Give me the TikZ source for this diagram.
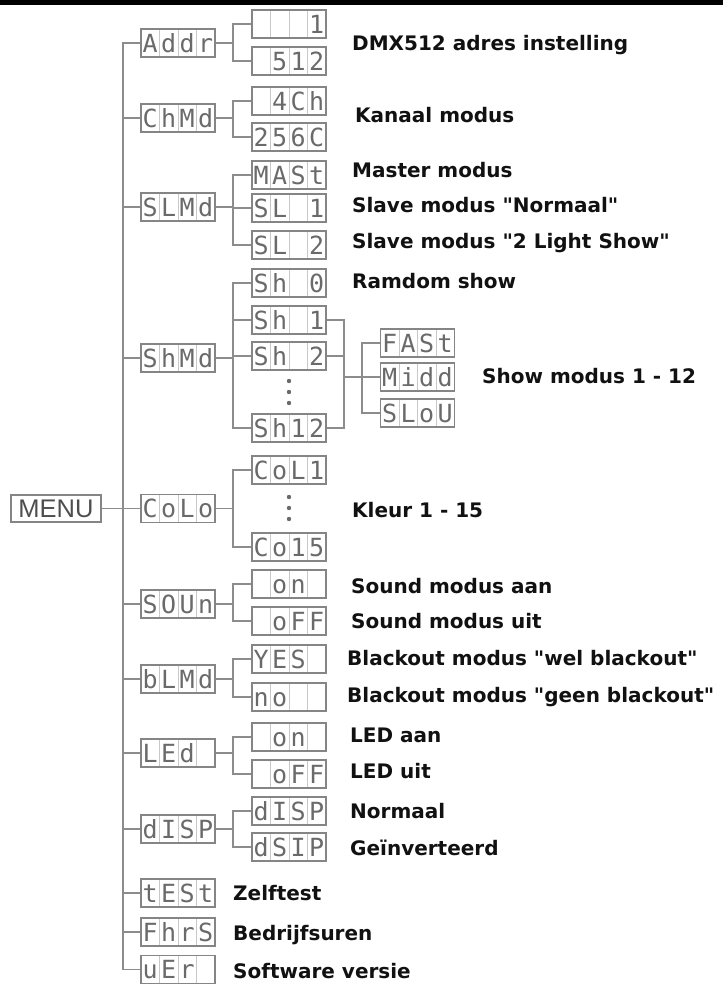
\documentclass[tikz,border=0pt]{standalone}
\usepackage{fontspec}
\setmainfont{DejaVu Sans}
\newfontfamily\lblfam{DejaVu Sans}
\newfontfamily\lcdfam{DejaVu Sans Mono}
\newfontfamily\menufam{Liberation Sans}
\usetikzlibrary{calc}
\definecolor{linegray}{HTML}{8C8C8C}
\definecolor{boxgray}{HTML}{858585}
\definecolor{divgray}{HTML}{C8C8C8}
\definecolor{lcdgray}{HTML}{6A6A6A}
\definecolor{menugray}{HTML}{4E4E4E}
\definecolor{txtblack}{HTML}{111111}
\newcommand\lcdcells[4]{\makebox[18.5pt]{#1}\makebox[18.5pt]{#2}\makebox[18.5pt]{#3}\makebox[18.5pt]{#4}}
\tikzset{
  conn/.style={draw=linegray, line width=1.5pt},
  lcdbox/.style={draw=boxgray, line width=1.5pt, minimum width=74pt, minimum height=28pt,
    inner sep=0pt, text=lcdgray, font=\lcdfam\fontsize{25}{25}\selectfont,
    text height=18pt, text depth=0pt,
    path picture={\foreach \k in {1,2,3}{\draw[divgray,line width=0.8pt]
      ($(path picture bounding box.north west)!\k/4!(path picture bounding box.north east)$) --
      ($(path picture bounding box.south west)!\k/4!(path picture bounding box.south east)$);}}},
  lbl/.style={anchor=base west, inner sep=0pt, text=txtblack,
    font=\lblfam\bfseries\fontsize{20}{20}\selectfont},
  menubox/.style={draw=boxgray, line width=1.5pt, minimum width=90pt, minimum height=27pt,
    inner sep=0pt, text=menugray, font=\menufam\fontsize{25.5}{25.5}\selectfont},
  lcddot/.style={fill=lcdgray}
}
\begin{document}
\begin{tikzpicture}[x=1pt,y=-1pt]
\useasboundingbox (0,0) rectangle (723,985);
\fill[black] (0,0) rectangle (723,4.5);

% root
\node[menubox] (menu) at (56,508.5) {MENU};

% level 2
\node[lcdbox] (addr) at (178,43)  {\lcdcells{A}{d}{d}{r}};
\node[lcdbox] (chmd) at (178,118) {\lcdcells{C}{h}{M}{d}};
\node[lcdbox] (slmd) at (178,207) {\lcdcells{S}{L}{M}{d}};
\node[lcdbox] (shmd) at (178,358) {\lcdcells{S}{h}{M}{d}};
\node[lcdbox] (colo) at (178,508.5) {\lcdcells{C}{o}{L}{o}};
\node[lcdbox] (soun) at (178,604) {\lcdcells{S}{O}{U}{n}};
\node[lcdbox] (blmd) at (178,679) {\lcdcells{b}{L}{M}{d}};
\node[lcdbox] (led)  at (178,753) {\lcdcells{L}{E}{d}{}};
\node[lcdbox] (disp) at (178,829) {\lcdcells{d}{I}{S}{P}};
\node[lcdbox] (test) at (178,893) {\lcdcells{t}{E}{S}{t}};
\node[lcdbox] (fhrs) at (178,932) {\lcdcells{F}{h}{r}{S}};
\node[lcdbox] (ver)  at (178,969.5) {\lcdcells{u}{E}{r}{}};

% level 3
\node[lcdbox] (a1) at (289,24)  {\lcdcells{}{}{}{1}};
\node[lcdbox] (a2) at (289,61)  {\lcdcells{}{5}{1}{2}};
\node[lcdbox] (c1) at (289,101) {\lcdcells{}{4}{C}{h}};
\node[lcdbox] (c2) at (289,137) {\lcdcells{2}{5}{6}{C}};
\node[lcdbox] (s1) at (289,175) {\lcdcells{M}{A}{S}{t}};
\node[lcdbox] (s2) at (289,208) {\lcdcells{S}{L}{}{1}};
\node[lcdbox] (s3) at (289,245) {\lcdcells{S}{L}{}{2}};
\node[lcdbox] (h0) at (289,283) {\lcdcells{S}{h}{}{0}};
\node[lcdbox] (h1) at (289,320) {\lcdcells{S}{h}{}{1}};
\node[lcdbox] (h2) at (289,356) {\lcdcells{S}{h}{}{2}};
\node[lcdbox] (h12) at (289,428) {\lcdcells{S}{h}{1}{2}};
\node[lcdbox] (col1) at (289,470) {\lcdcells{C}{o}{L}{1}};
\node[lcdbox] (col15) at (289,547) {\lcdcells{C}{o}{1}{5}};
\node[lcdbox] (on1) at (289,584) {\lcdcells{}{o}{n}{}};
\node[lcdbox] (off1) at (289,621) {\lcdcells{}{o}{F}{F}};
\node[lcdbox] (yes) at (289,659) {\lcdcells{Y}{E}{S}{}};
\node[lcdbox] (no) at (289,697) {\lcdcells{n}{o}{}{}};
\node[lcdbox] (on2) at (289,737) {\lcdcells{}{o}{n}{}};
\node[lcdbox] (off2) at (289,774) {\lcdcells{}{o}{F}{F}};
\node[lcdbox] (d1) at (289,811) {\lcdcells{d}{I}{S}{P}};
\node[lcdbox] (d2) at (289,847) {\lcdcells{d}{S}{I}{P}};

% level 4
\node[lcdbox] (fast) at (417.5,343) {\lcdcells{F}{A}{S}{t}};
\node[lcdbox] (midd) at (417.5,377) {\lcdcells{M}{i}{d}{d}};
\node[lcdbox] (slow) at (417.5,413) {\lcdcells{S}{L}{o}{U}};

% dots
\foreach \yy in {381,392,403} \fill[lcddot] (289,\yy) circle (2.2pt);
\foreach \yy in {497,508,519} \fill[lcddot] (289,\yy) circle (2.2pt);

% helper columns
\coordinate (tt) at (123,0);
\coordinate (br) at (233,0);
\coordinate (bk) at (344,0);
\coordinate (bk2) at (362,0);

% trunk
\draw[conn] (menu.east) -- (colo.west);
\draw[conn] (addr.west) -- (addr.west -| tt) -- (ver.west -| tt) -- (ver.west);
\foreach \n in {chmd,slmd,shmd,soun,blmd,led,disp,test,fhrs}
  \draw[conn] (\n.west) -- (\n.west -| tt);

% level 2 -> 3
\foreach \p/\a/\b in {addr/a1/a2, chmd/c1/c2, slmd/s1/s3, shmd/h0/h12, colo/col1/col15,
                      soun/on1/off1, blmd/yes/no, led/on2/off2, disp/d1/d2}{
  \draw[conn] (\p.east) -- (\p.east -| br);
  \draw[conn] (\a.west) -- (\a.west -| br) -- (\b.west -| br) -- (\b.west);
}
\foreach \n in {s2,h1,h2}
  \draw[conn] (\n.west) -- (\n.west -| br);

% show bracket
\draw[conn] (h1.east) -- (h1.east -| bk) -- (h12.east -| bk) -- (h12.east);
\draw[conn] (h2.east) -- (h2.east -| bk);
\draw[conn] (midd.west -| bk) -- (midd.west);
\draw[conn] (fast.west) -- (fast.west -| bk2) -- (slow.west -| bk2) -- (slow.west);

% labels
\node[lbl] (t1) at (352,50.5) {DMX512 adres instelling};
\node[lbl] (t2) at (355,122.5) {Kanaal modus};
\node[lbl] (t3) at (352,177) {Master modus};
\node[lbl] (t4) at (352,212.5) {Slave modus "Normaal"};
\node[lbl] (t5) at (352,248) {Slave modus "2 Light Show"};
\node[lbl] (t6) at (352,288.5) {Ramdom show};
\node[lbl] (t7) at (482,383.5) {Show modus 1 - 12};
\node[lbl] (t8) at (352,517.5) {Kleur 1 - 15};
\node[lbl] (t9) at (351,593.5) {Sound modus aan};
\node[lbl] (t10) at (351,628.5) {Sound modus uit};
\node[lbl] (t11) at (347,665.5) {Blackout modus "wel blackout"};
\node[lbl] (t12) at (347,702.5) {Blackout modus "geen blackout"};
\node[lbl] (t13) at (350,742.5) {LED aan};
\node[lbl] (t14) at (350,778.5) {LED uit};
\node[lbl] (t15) at (350,818.5) {Normaal};
\node[lbl] (t16) at (350,855.5) {Geïnverteerd};
\node[lbl] (t17) at (233,900.5) {Zelftest};
\node[lbl] (t18) at (233,940.5) {Bedrijfsuren};
\node[lbl] (t19) at (233,978.5) {Software versie};
\end{tikzpicture}
\end{document}
